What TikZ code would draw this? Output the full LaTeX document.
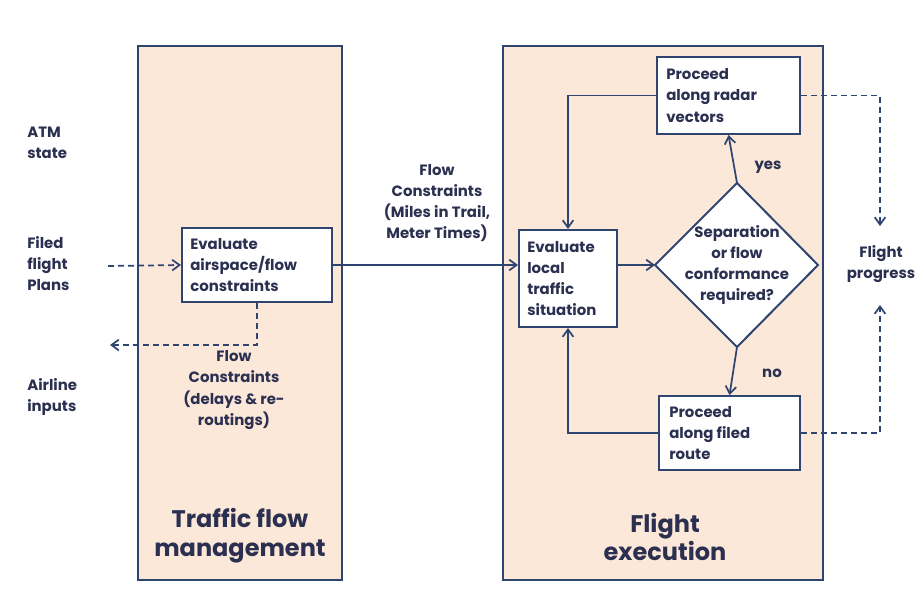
\documentclass[tikz,border=0pt]{standalone}
\usepackage{fontspec}
\setmainfont{Poppins}
\usetikzlibrary{arrows.meta,positioning,shapes.geometric}
\definecolor{panelfill}{HTML}{FBE8D8}
\definecolor{edge}{HTML}{2F4570}
\definecolor{ink}{HTML}{2B3050}
\begin{document}
\begin{tikzpicture}[x=0.75pt,y=-0.75pt,
  panel/.style={draw=edge,line width=1.6pt,fill=panelfill},
  proc/.style={draw=edge,line width=1.5pt,fill=white},
  lbl/.style={text=ink,font=\bfseries\fontsize{11.2}{15.8}\selectfont,align=left,inner sep=0pt},
  clbl/.style={lbl,align=center},
  title/.style={text=ink,font=\bfseries\fontsize{18}{21.5}\selectfont,align=center,inner sep=0pt},
  flow/.style={draw=edge,line width=1.3pt,-{Straight Barb[length=5.5pt,width=8pt]}},
  dflow/.style={flow,dashed,dash pattern=on 4.5pt off 3pt}]
\useasboundingbox (0,0) rectangle (923,600);
\fill[white] (0,0) rectangle (923,600);

% the two swim lanes
\draw[panel] (138,46) rectangle (342,580);
\draw[panel] (503,46) rectangle (823,580);
\node[title] (tfm) at (240,536) {Traffic flow\\management};
\node[title] (fex) at (665,537) {Flight\\execution};

% process boxes
\node[proc,minimum width=150*0.75pt,minimum height=74*0.75pt] (evair) at (257,265) {};
\node[lbl,anchor=west] at (190,265) {Evaluate\\airspace/flow\\constraints};
\node[proc,minimum width=98*0.75pt,minimum height=97*0.75pt] (evloc) at (568,278.5) {};
\node[lbl,anchor=west] at (527,278.5) {Evaluate\\local\\traffic\\situation};
\node[proc,minimum width=143*0.75pt,minimum height=77*0.75pt] (radar) at (728.5,95.5) {};
\node[lbl,anchor=west] at (666,95.5) {Proceed\\along radar\\vectors};
\node[proc,minimum width=141*0.75pt,minimum height=74*0.75pt] (filed) at (729.5,433) {};
\node[lbl,anchor=west] at (669,433) {Proceed\\along filed\\route};

% decision diamond
\coordinate (dl) at (655,265);
\coordinate (dr) at (818,265);
\coordinate (dt) at (737,183);
\coordinate (db) at (737,347);
\draw[proc] (dl) -- (dt) -- (dr) -- (db) -- cycle;
\node[clbl] (dec) at (737,265) {Separation\\or flow\\conformance\\required?};

% free labels
\node[lbl,anchor=west] (atm) at (27,143) {ATM\\state};
\node[lbl,anchor=west] (ffp) at (27,264) {Filed\\flight\\Plans};
\node[lbl,anchor=west] (air) at (27,397) {Airline\\inputs};
\node[clbl] (fcd) at (234,390) {Flow\\Constraints\\(delays \& re-\\routings)};
\node[clbl] (fcm) at (437,203) {Flow\\Constraints\\(Miles in Trail,\\Meter Times)};
\node[clbl] (fp) at (881,264) {Flight\\progress};
\node[lbl] (yes) at (768,167) {yes};
\node[lbl] (no) at (772,373) {no};

% connectors
\coordinate (ffpend) at (108,266);
\coordinate (fcdend) at (110,345);
\coordinate (fptop) at (880,226);
\coordinate (fpbot) at (880,305);
\draw[dflow] (ffpend) -- (evair.west);
\draw[dflow] (evair.south) |- (fcdend);
\draw[flow] (evair.east) -- (evair.east -| evloc.west);
\draw[flow] (evloc.east |- dl) -- (dl);
\draw[flow] (dt) -- (radar.south);
\draw[flow] (db) -- (filed.north);
\draw[flow] (radar.west) -| (evloc.north);
\draw[flow] (filed.west) -| (evloc.south);
\draw[dflow] (radar.east) -| (fptop);
\draw[dflow] (filed.east) -| (fpbot);
\end{tikzpicture}
\end{document}
